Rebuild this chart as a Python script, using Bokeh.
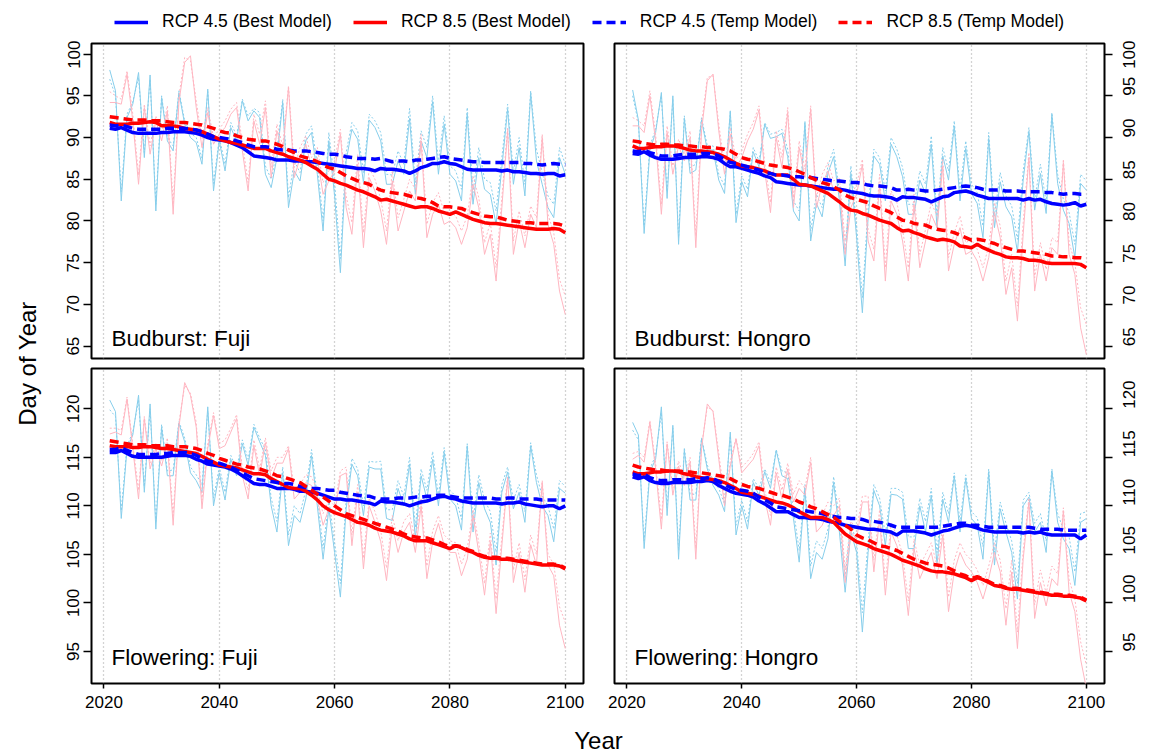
import math
from bokeh.plotting import figure
from bokeh.layouts import column, row
from bokeh.models import (Range1d, FixedTicker, Grid, Legend, LegendItem, Label,
                          LinearAxis)
from bokeh.embed import file_html
from bokeh.resources import INLINE

FONT = "Liberation Sans"
years = list(range(2021, 2101))

# ---------------- Budburst: Fuji ----------------
bbF_45_best_smooth = [
 91.1, 91.0, 91.2, 90.9, 90.6, 90.5, 90.5, 90.5, 90.5, 90.6,
 90.6, 90.7, 90.7, 90.7, 90.6, 90.5, 90.3, 90.0, 89.8, 89.7,
 89.6, 89.4, 89.1, 88.8, 88.3, 87.8, 87.7, 87.6, 87.5, 87.3,
 87.3, 87.3, 87.2, 87.2, 87.1, 87.1, 87.0, 86.9, 86.8, 86.7,
 86.6, 86.5, 86.4, 86.3, 86.3, 86.2, 86.0, 86.3, 86.2, 86.2,
 86.1, 86.0, 85.7, 86.0, 86.4, 86.6, 86.9, 86.9, 87.1, 86.9,
 86.8, 86.5, 86.2, 86.1, 86.1, 86.1, 86.1, 86.1, 86.0, 86.1,
 85.9, 85.9, 85.8, 85.7, 85.7, 85.6, 85.7, 85.7, 85.4, 85.55]
bbF_45_temp_smooth = [
 91.5, 91.4, 91.5, 91.3, 91.1, 91.0, 91.0, 91.0, 91.0, 91.0,
 91.1, 91.1, 91.1, 91.1, 91.0, 90.9, 90.7, 90.4, 90.1, 90.0,
 89.9, 89.8, 89.6, 89.4, 89.1, 88.9, 88.9, 88.9, 88.8, 88.6,
 88.5, 88.5, 88.4, 88.4, 88.4, 88.3, 88.2, 88.1, 88.0, 88.0,
 87.9, 87.7, 87.6, 87.5, 87.5, 87.5, 87.4, 87.5, 87.3, 87.1,
 87.2, 87.2, 87.1, 87.3, 87.3, 87.4, 87.5, 87.6, 87.7, 87.5,
 87.4, 87.3, 87.2, 87.1, 87.1, 87.0, 87.0, 87.0, 87.0, 87.0,
 87.0, 87.0, 86.9, 86.9, 86.8, 86.7, 86.8, 86.9, 86.8, 86.7]
bbF_85_best_smooth = [
 91.8, 91.6, 91.6, 91.6, 91.7, 91.7, 91.8, 91.9, 91.8, 91.4,
 91.4, 91.4, 91.3, 91.1, 91.0, 90.9, 90.7, 90.4, 90.1, 89.8,
 89.6, 89.4, 89.3, 89.1, 88.9, 88.7, 88.7, 88.7, 88.4, 88.2,
 88.0, 87.7, 87.5, 87.3, 87.0, 86.6, 86.2, 85.6, 85.0, 84.8,
 84.5, 84.3, 84.0, 83.7, 83.5, 83.2, 82.9, 82.5, 82.6, 82.4,
 82.2, 82.0, 81.8, 81.6, 81.7, 81.7, 81.5, 81.2, 81.0, 80.8,
 81.1, 80.8, 80.5, 80.2, 80.0, 79.8, 79.7, 79.7, 79.6, 79.5,
 79.4, 79.3, 79.2, 79.1, 79.0, 79.0, 79.0, 79.1, 79.0, 78.6]
bbF_85_temp_smooth = [
 92.5, 92.4, 92.3, 92.2, 92.1, 92.1, 92.1, 92.0, 92.0, 92.0,
 91.9, 91.8, 91.8, 91.8, 91.7, 91.6, 91.5, 91.3, 91.1, 90.8,
 90.6, 90.5, 90.2, 90.0, 89.8, 89.7, 89.6, 89.6, 89.4, 89.2,
 88.9, 88.5, 88.2, 87.8, 87.6, 87.4, 87.1, 86.7, 86.4, 86.2,
 85.8, 85.4, 85.1, 84.8, 84.6, 84.4, 84.0, 83.7, 83.5, 83.4,
 83.3, 83.2, 83.0, 82.8, 82.7, 82.5, 82.2, 81.8, 81.7, 81.7,
 81.6, 81.5, 81.2, 81.0, 80.8, 80.6, 80.5, 80.5, 80.3, 80.1,
 80.0, 79.9, 79.8, 79.8, 79.7, 79.7, 79.7, 79.7, 79.6, 79.4]
bbF_45_best_annual = [
 98.1, 95.6, 82.4, 92.4, 94.0, 97.8, 87.6, 97.5, 81.2, 94.8,
 89.6, 88.4, 95.4, 91.6, 90.0, 89.4, 86.8, 95.8, 83.6, 89.6,
 86.0, 91.2, 89.6, 94.4, 92.0, 93.2, 92.4, 85.6, 84.0, 87.6,
 94.2, 81.6, 86.0, 84.8, 89.6, 90.6, 85.6, 78.8, 89.6, 83.0,
 73.8, 87.2, 91.0, 89.8, 84.6, 92.1, 91.2, 89.6, 84.4, 84.4,
 87.2, 85.6, 92.3, 83.2, 89.6, 87.6, 94.3, 85.6, 91.6, 85.6,
 84.8, 82.4, 92.8, 82.0, 87.6, 83.8, 83.2, 79.6, 86.4, 93.4,
 84.4, 88.8, 83.0, 95.3, 87.2, 84.4, 81.6, 80.4, 87.6, 85.6]
bbF_45_temp_annual = [
 97.0, 95.0, 83.5, 92.8, 94.3, 97.2, 88.2, 97.0, 82.0, 95.0,
 90.0, 89.0, 95.6, 92.0, 90.5, 90.0, 87.5, 95.5, 84.5, 90.0,
 86.8, 91.8, 90.2, 94.6, 92.6, 93.5, 93.0, 86.6, 85.0, 88.4,
 94.6, 82.8, 87.2, 85.8, 90.4, 91.4, 86.8, 80.0, 90.6, 84.6,
 75.5, 88.2, 91.8, 90.8, 85.8, 92.8, 92.0, 90.6, 85.6, 85.5,
 88.4, 86.8, 93.5, 84.6, 90.8, 88.8, 95.0, 87.0, 92.6, 86.6,
 86.0, 83.8, 93.6, 83.4, 88.8, 85.0, 84.6, 81.2, 87.6, 94.0,
 85.8, 90.0, 84.4, 95.6, 88.6, 85.8, 83.0, 82.0, 88.8, 86.8]
bbF_85_best_annual = [
 94.2, 94.2, 94.0, 97.6, 92.0, 84.4, 93.6, 88.0, 92.0, 89.6,
 93.2, 80.8, 94.2, 99.0, 99.8, 93.6, 88.8, 93.0, 89.2, 90.4,
 91.2, 92.8, 93.6, 88.4, 83.6, 92.0, 89.2, 93.6, 85.2, 90.8,
 88.0, 96.0, 85.2, 87.6, 89.2, 86.4, 87.6, 83.2, 84.8, 86.0,
 90.4, 81.6, 78.4, 86.8, 76.8, 85.2, 83.6, 81.2, 77.2, 84.8,
 78.8, 81.2, 83.6, 82.4, 89.6, 78.0, 80.8, 82.0, 79.6, 80.0,
 79.2, 77.2, 79.2, 84.4, 81.6, 76.0, 78.4, 72.8, 81.6, 90.8,
 76.0, 80.0, 76.8, 80.8, 79.2, 90.0, 79.6, 77.2, 71.6, 68.8]
bbF_85_temp_annual = [
 95.5, 95.0, 94.6, 98.0, 92.8, 85.5, 94.0, 89.0, 92.6, 90.4,
 93.8, 82.0, 95.0, 99.6, 99.2, 94.4, 89.8, 93.6, 90.0, 91.0,
 92.0, 93.4, 94.2, 89.4, 84.6, 92.8, 90.4, 94.4, 86.4, 91.6,
 89.0, 96.2, 86.4, 88.8, 90.2, 87.6, 88.8, 84.6, 86.0, 87.2,
 91.0, 83.0, 79.8, 88.0, 78.6, 86.4, 85.0, 82.6, 78.8, 86.0,
 80.4, 82.6, 85.0, 83.8, 90.4, 79.6, 82.2, 83.4, 81.0, 81.2,
 80.6, 78.8, 80.6, 85.4, 82.8, 77.4, 79.8, 74.4, 82.8, 91.2,
 77.6, 81.2, 78.2, 81.8, 80.4, 90.4, 80.8, 78.6, 73.0, 71.0]

# ---------------- Budburst: Hongro ----------------
bbH_45_best_smooth = [
 88.1, 88.0, 88.3, 87.9, 87.6, 87.4, 87.4, 87.4, 87.5, 87.6,
 87.6, 87.6, 87.7, 87.7, 87.6, 87.4, 86.9, 86.5, 86.5, 86.3,
 86.1, 85.9, 85.7, 85.4, 85.2, 84.7, 84.6, 84.5, 84.4, 84.3,
 84.3, 84.2, 84.1, 84.0, 83.9, 83.8, 83.8, 83.7, 83.5, 83.4,
 83.3, 83.1, 83.0, 83.0, 82.9, 82.8, 82.5, 82.9, 82.8, 82.8,
 82.7, 82.6, 82.3, 82.6, 82.9, 83.0, 83.4, 83.5, 83.6, 83.4,
 83.1, 82.9, 82.7, 82.7, 82.7, 82.7, 82.7, 82.7, 82.5, 82.7,
 82.5, 82.6, 82.3, 82.1, 82.0, 81.9, 82.0, 82.2, 81.8, 82.0]
bbH_45_temp_smooth = [
 88.4, 88.3, 88.5, 88.2, 88.0, 87.8, 87.8, 87.8, 87.9, 88.0,
 88.0, 88.0, 88.1, 88.1, 88.0, 87.8, 87.4, 87.0, 86.9, 86.7,
 86.5, 86.3, 86.1, 85.8, 85.7, 85.5, 85.5, 85.4, 85.3, 85.3,
 85.2, 85.2, 85.1, 85.0, 84.9, 84.8, 84.8, 84.7, 84.6, 84.6,
 84.5, 84.3, 84.2, 84.2, 84.1, 84.0, 83.7, 83.7, 83.8, 83.7,
 83.7, 83.6, 83.6, 83.7, 83.8, 83.9, 84.0, 84.1, 84.2, 84.1,
 84.0, 83.8, 83.7, 83.7, 83.7, 83.6, 83.6, 83.6, 83.5, 83.5,
 83.5, 83.5, 83.4, 83.4, 83.3, 83.2, 83.3, 83.3, 83.2, 83.2]
bbH_85_best_smooth = [
 89.0, 88.7, 88.7, 88.8, 88.9, 88.9, 89.0, 89.0, 88.9, 88.7,
 88.5, 88.4, 88.4, 88.3, 88.2, 88.0, 87.7, 87.3, 86.9, 86.6,
 86.5, 86.4, 86.2, 86.0, 85.7, 85.5, 85.5, 85.5, 85.0, 84.4,
 84.3, 84.2, 83.9, 83.6, 83.3, 82.8, 82.3, 81.7, 81.3, 81.2,
 80.9, 80.7, 80.4, 80.1, 79.9, 79.7, 79.2, 78.8, 78.9, 78.6,
 78.4, 78.1, 77.9, 77.7, 77.8, 77.7, 77.5, 77.0, 76.9, 76.8,
 77.2, 76.8, 76.5, 76.2, 76.0, 75.7, 75.6, 75.6, 75.5, 75.3,
 75.3, 75.2, 75.0, 74.9, 74.9, 74.9, 74.9, 74.9, 74.8, 74.4]
bbH_85_temp_smooth = [
 89.6, 89.5, 89.3, 89.2, 89.1, 89.2, 89.2, 89.1, 89.1, 89.0,
 89.0, 88.9, 88.9, 88.8, 88.8, 88.7, 88.6, 88.4, 88.0, 87.6,
 87.4, 87.3, 87.1, 86.9, 86.7, 86.6, 86.5, 86.4, 86.2, 85.9,
 85.6, 85.2, 84.9, 84.6, 84.4, 84.1, 83.7, 83.1, 82.8, 82.6,
 82.4, 82.2, 81.8, 81.5, 81.3, 81.0, 80.5, 80.1, 80.0, 79.7,
 79.6, 79.5, 79.2, 79.0, 78.9, 78.8, 78.6, 78.3, 78.0, 77.7,
 77.8, 77.7, 77.5, 77.3, 77.0, 76.8, 76.6, 76.4, 76.4, 76.3,
 76.2, 76.1, 76.0, 75.8, 75.8, 75.7, 75.7, 75.6, 75.6, 75.5]
bbH_45_best_annual = [
 95.7, 92.1, 78.5, 88.5, 90.6, 95.4, 82.7, 95.0, 77.2, 92.3,
 85.7, 86.1, 92.1, 88.5, 88.5, 84.9, 83.3, 93.2, 79.8, 84.7,
 82.9, 88.3, 86.5, 91.6, 89.9, 90.1, 90.5, 87.7, 81.2, 80.0,
 91.7, 77.6, 82.1, 80.5, 85.7, 87.7, 82.5, 74.6, 85.7, 78.0,
 69.0, 80.4, 87.8, 86.8, 82.4, 89.2, 87.7, 85.3, 80.8, 80.8,
 84.9, 83.3, 89.2, 79.2, 87.8, 84.9, 91.4, 82.4, 88.7, 83.3,
 82.1, 78.0, 89.9, 79.2, 84.7, 81.7, 80.5, 76.3, 84.9, 90.7,
 81.3, 85.7, 80.9, 92.7, 84.5, 81.3, 79.7, 75.6, 84.5, 83.7]
bbH_45_temp_annual = [
 95.0, 91.8, 79.4, 89.0, 91.0, 95.0, 83.5, 94.6, 78.0, 92.6,
 86.4, 86.8, 92.4, 89.0, 89.0, 85.6, 84.2, 93.0, 80.8, 85.4,
 83.8, 88.8, 87.2, 91.8, 90.4, 90.6, 91.0, 88.6, 82.4, 81.2,
 92.0, 78.8, 83.2, 81.6, 86.6, 88.6, 83.6, 76.0, 86.6, 79.4,
 70.8, 81.6, 88.6, 87.6, 83.6, 90.0, 88.6, 86.4, 82.0, 82.0,
 86.0, 84.4, 90.2, 80.6, 88.8, 86.0, 92.0, 83.6, 89.6, 84.4,
 83.4, 79.4, 90.6, 80.6, 85.8, 83.0, 81.8, 77.8, 86.0, 91.2,
 82.6, 86.8, 82.2, 93.0, 85.6, 82.6, 81.0, 77.2, 85.6, 84.8]
bbH_85_best_annual = [
 91.4, 91.4, 90.6, 95.0, 89.6, 80.8, 90.6, 85.6, 89.0, 87.2,
 90.0, 76.8, 90.8, 96.8, 97.6, 90.8, 85.6, 90.4, 86.4, 87.6,
 89.6, 91.0, 93.3, 86.0, 81.0, 90.0, 86.4, 93.0, 81.6, 88.8,
 85.2, 93.4, 81.6, 84.4, 86.0, 83.6, 84.0, 76.0, 81.6, 83.2,
 86.8, 77.6, 75.2, 84.4, 72.8, 82.4, 80.8, 77.6, 72.8, 82.0,
 74.4, 77.6, 80.8, 79.2, 86.6, 74.0, 77.2, 79.2, 76.0, 76.4,
 75.2, 72.8, 75.6, 81.0, 78.0, 71.2, 74.4, 68.0, 78.4, 87.6,
 71.6, 76.0, 72.8, 76.8, 76.0, 87.0, 76.0, 73.6, 67.2, 64.0]
bbH_85_temp_annual = [
 92.4, 92.0, 91.4, 95.6, 90.4, 82.0, 91.4, 86.6, 89.8, 88.0,
 90.8, 78.2, 91.6, 97.2, 97.4, 91.6, 86.6, 91.2, 87.4, 88.4,
 90.4, 91.8, 93.8, 87.0, 82.2, 90.8, 87.6, 93.6, 82.8, 89.6,
 86.2, 93.8, 82.8, 85.6, 87.0, 84.8, 85.2, 77.6, 83.0, 84.4,
 87.4, 79.0, 76.6, 85.6, 74.4, 83.6, 82.2, 79.0, 74.4, 83.2,
 76.0, 79.0, 82.2, 80.6, 87.4, 75.6, 78.6, 80.6, 77.4, 77.8,
 76.6, 74.4, 77.0, 82.2, 79.4, 72.8, 76.0, 69.8, 79.8, 88.2,
 73.2, 77.4, 74.2, 78.0, 77.4, 87.4, 77.4, 75.0, 69.6, 67.6]

# ---------------- Flowering: Fuji ----------------
flF_45_best_smooth = [
 115.5, 115.5, 115.7, 115.4, 115.1, 115.0, 115.0, 115.0, 115.0, 115.0,
 115.1, 115.2, 115.2, 115.2, 115.1, 114.8, 114.6, 114.3, 114.2, 114.1,
 114.0, 113.8, 113.5, 113.1, 112.7, 112.3, 112.2, 112.2, 112.0, 111.8,
 111.8, 111.8, 111.7, 111.5, 111.5, 111.4, 111.3, 111.1, 110.9, 110.7,
 110.7, 110.6, 110.6, 110.5, 110.4, 110.3, 110.1, 110.5, 110.4, 110.4,
 110.3, 110.2, 110.0, 110.2, 110.4, 110.5, 110.7, 110.9, 111.0, 110.8,
 110.7, 110.5, 110.4, 110.3, 110.3, 110.3, 110.3, 110.3, 110.2, 110.3,
 110.3, 110.4, 110.2, 110.1, 110.0, 109.9, 110.0, 110.0, 109.7, 110.0]
flF_45_temp_smooth = [
 115.8, 115.8, 116.0, 115.7, 115.5, 115.3, 115.3, 115.3, 115.3, 115.4,
 115.4, 115.5, 115.5, 115.5, 115.4, 115.2, 114.9, 114.6, 114.5, 114.4,
 114.2, 114.0, 113.7, 113.4, 113.1, 112.8, 112.7, 112.6, 112.5, 112.4,
 112.3, 112.3, 112.2, 112.0, 111.9, 111.8, 111.8, 111.7, 111.6, 111.6,
 111.4, 111.3, 111.2, 111.1, 111.0, 111.0, 110.8, 110.7, 110.7, 110.7,
 110.8, 110.8, 110.8, 110.9, 110.9, 111.0, 111.0, 111.1, 111.1, 111.0,
 110.9, 110.8, 110.8, 110.8, 110.8, 110.8, 110.8, 110.7, 110.7, 110.8,
 110.8, 110.7, 110.7, 110.7, 110.7, 110.6, 110.6, 110.6, 110.6, 110.6]
flF_85_best_smooth = [
 116.2, 116.1, 116.1, 116.1, 116.0, 116.0, 116.1, 116.1, 116.0, 115.9,
 115.9, 115.8, 115.7, 115.6, 115.5, 115.4, 115.1, 114.8, 114.5, 114.2,
 114.1, 114.0, 113.9, 113.7, 113.5, 113.3, 113.3, 113.2, 112.8, 112.5,
 112.2, 111.9, 111.8, 111.8, 111.5, 111.1, 110.6, 110.0, 109.6, 109.3,
 109.1, 108.9, 108.6, 108.3, 108.2, 108.0, 107.7, 107.5, 107.4, 107.3,
 107.1, 106.9, 106.6, 106.4, 106.4, 106.4, 106.2, 106.0, 105.8, 105.6,
 105.9, 105.7, 105.4, 105.2, 104.9, 104.7, 104.6, 104.6, 104.5, 104.5,
 104.4, 104.3, 104.2, 104.1, 104.0, 103.9, 103.9, 103.9, 103.8, 103.5]
flF_85_temp_smooth = [
 116.7, 116.6, 116.5, 116.4, 116.3, 116.3, 116.3, 116.2, 116.2, 116.2,
 116.2, 116.1, 116.1, 116.1, 116.0, 115.9, 115.7, 115.4, 115.2, 114.9,
 114.7, 114.5, 114.3, 114.2, 114.0, 113.9, 113.8, 113.6, 113.4, 113.1,
 113.0, 112.8, 112.6, 112.4, 112.0, 111.6, 111.2, 110.9, 110.5, 110.0,
 109.6, 109.2, 109.0, 108.8, 108.6, 108.4, 108.2, 108.0, 107.8, 107.6,
 107.4, 107.1, 106.9, 106.8, 106.7, 106.7, 106.5, 106.3, 106.0, 105.8,
 105.9, 105.8, 105.5, 105.3, 105.0, 104.8, 104.7, 104.7, 104.6, 104.6,
 104.5, 104.4, 104.3, 104.2, 104.1, 104.0, 104.0, 104.0, 103.9, 103.6]
flF_45_best_annual = [
 120.9, 119.7, 108.7, 115.9, 117.3, 121.4, 111.4, 120.5, 107.6, 118.1,
 113.1, 113.1, 118.5, 116.6, 113.4, 112.6, 111.4, 120.2, 110.0, 113.4,
 110.6, 114.8, 113.1, 116.4, 114.2, 118.1, 116.6, 115.2, 110.0, 107.3,
 113.4, 105.9, 109.0, 108.3, 110.7, 115.2, 110.0, 104.5, 109.7, 105.2,
 100.6, 109.7, 114.3, 113.1, 109.0, 114.0, 113.8, 113.8, 108.7, 108.5,
 111.8, 110.0, 114.3, 106.6, 113.1, 110.7, 114.8, 110.0, 115.5, 110.7,
 110.0, 107.5, 116.2, 107.3, 112.4, 109.7, 108.3, 103.9, 111.4, 113.5,
 109.7, 111.4, 108.3, 116.2, 112.4, 110.0, 109.0, 106.3, 111.8, 111.3]
flF_45_temp_annual = [
 119.9, 119.2, 109.5, 116.2, 117.6, 120.9, 112.0, 120.0, 108.4, 118.4,
 113.6, 113.7, 118.7, 117.0, 114.0, 113.2, 112.2, 119.8, 110.8, 114.0,
 111.4, 115.2, 113.8, 116.8, 114.8, 118.4, 117.0, 115.8, 110.8, 108.4,
 114.0, 107.0, 110.0, 109.2, 111.6, 115.8, 111.0, 105.6, 110.6, 106.2,
 102.0, 110.6, 114.9, 113.8, 110.0, 114.6, 114.5, 114.6, 109.6, 109.6,
 112.6, 111.0, 115.0, 107.8, 113.8, 111.6, 115.6, 111.0, 116.0, 111.6,
 111.0, 108.6, 116.4, 108.5, 113.2, 110.6, 109.4, 105.2, 112.2, 114.0,
 110.6, 112.2, 109.4, 116.5, 113.2, 111.0, 110.0, 107.6, 112.6, 112.0]
flF_85_best_annual = [
 117.4, 117.6, 117.3, 121.0, 115.9, 110.7, 119.0, 113.8, 115.9, 114.1,
 116.5, 108.0, 118.1, 122.7, 121.4, 118.1, 109.7, 115.9, 119.3, 115.9,
 116.2, 117.6, 119.0, 113.1, 110.7, 116.2, 113.1, 116.5, 112.8, 114.4,
 114.4, 115.9, 110.7, 111.4, 112.4, 112.1, 110.7, 108.0, 109.7, 109.0,
 113.1, 113.4, 105.9, 111.4, 103.5, 110.0, 108.3, 106.3, 102.3, 108.0,
 105.2, 107.3, 108.3, 105.2, 110.0, 102.5, 106.3, 108.2, 105.9, 105.2,
 105.2, 102.8, 104.5, 109.0, 105.2, 100.8, 106.3, 98.9, 105.9, 112.8,
 102.1, 105.2, 101.1, 106.0, 103.9, 112.4, 103.9, 102.8, 97.7, 95.3]
flF_85_temp_annual = [
 118.0, 118.0, 117.8, 121.2, 116.4, 111.6, 119.2, 114.4, 116.4, 114.6,
 117.0, 109.0, 118.6, 122.4, 121.6, 118.6, 110.6, 116.4, 119.6, 116.4,
 116.8, 118.0, 119.4, 113.8, 111.6, 116.8, 113.8, 117.0, 113.6, 115.0,
 115.0, 116.2, 111.6, 112.2, 113.2, 113.0, 111.6, 109.2, 110.6, 110.0,
 113.6, 114.0, 107.0, 112.2, 104.6, 110.8, 109.4, 107.4, 103.6, 109.0,
 106.4, 108.4, 109.2, 106.4, 110.8, 103.8, 107.4, 109.0, 107.0, 106.4,
 106.2, 104.0, 105.6, 109.6, 106.2, 102.0, 107.2, 100.4, 106.8, 113.0,
 103.4, 106.2, 102.4, 107.0, 105.0, 112.6, 105.0, 104.0, 99.6, 98.0]

# ---------------- Flowering: Hongro ----------------
flH_45_best_smooth = [
 113.0, 112.8, 113.0, 112.6, 112.4, 112.3, 112.3, 112.4, 112.4, 112.4,
 112.4, 112.5, 112.5, 112.6, 112.5, 112.1, 111.8, 111.5, 111.3, 111.2,
 111.1, 110.9, 110.5, 110.2, 109.8, 109.4, 109.4, 109.4, 109.1, 108.8,
 108.8, 108.7, 108.7, 108.6, 108.4, 108.3, 108.2, 108.0, 107.9, 107.8,
 107.7, 107.6, 107.6, 107.5, 107.4, 107.3, 107.0, 107.4, 107.4, 107.4,
 107.3, 107.2, 107.0, 107.2, 107.4, 107.5, 107.7, 107.9, 108.0, 107.9,
 107.7, 107.5, 107.4, 107.3, 107.3, 107.3, 107.3, 107.3, 107.2, 107.3,
 107.2, 107.3, 107.1, 107.0, 107.0, 107.0, 107.0, 107.0, 106.6, 107.0]
flH_45_temp_smooth = [
 113.3, 113.1, 113.3, 112.9, 112.7, 112.6, 112.6, 112.7, 112.7, 112.7,
 112.7, 112.8, 112.8, 112.9, 112.8, 112.5, 112.2, 111.9, 111.7, 111.6,
 111.5, 111.3, 110.9, 110.6, 110.3, 109.9, 109.8, 109.7, 109.6, 109.5,
 109.5, 109.4, 109.3, 109.2, 109.0, 108.9, 108.8, 108.8, 108.7, 108.7,
 108.6, 108.4, 108.4, 108.3, 108.2, 108.0, 107.8, 107.8, 107.8, 107.8,
 107.8, 107.8, 107.8, 107.8, 107.9, 108.0, 108.1, 108.2, 108.2, 108.0,
 108.0, 107.9, 107.8, 107.8, 107.8, 107.8, 107.8, 107.8, 107.8, 107.8,
 107.7, 107.6, 107.6, 107.6, 107.6, 107.5, 107.5, 107.5, 107.5, 107.5]
flH_85_best_smooth = [
 113.5, 113.3, 113.3, 113.4, 113.5, 113.5, 113.6, 113.6, 113.5, 113.3,
 113.2, 113.0, 112.9, 112.8, 112.7, 112.6, 112.4, 112.1, 111.8, 111.4,
 111.3, 111.2, 111.0, 110.8, 110.6, 110.4, 110.3, 110.1, 109.8, 109.4,
 109.1, 108.8, 108.8, 108.8, 108.6, 108.3, 107.7, 107.1, 106.7, 106.3,
 106.1, 105.9, 105.6, 105.4, 105.2, 105.0, 104.7, 104.4, 104.2, 104.0,
 103.8, 103.5, 103.3, 103.2, 103.2, 103.1, 103.0, 102.8, 102.6, 102.3,
 102.6, 102.4, 102.1, 101.8, 101.7, 101.5, 101.4, 101.4, 101.3, 101.2,
 101.1, 101.0, 100.9, 100.8, 100.8, 100.7, 100.7, 100.6, 100.5, 100.2]
flH_85_temp_smooth = [
 114.2, 114.0, 113.9, 113.8, 113.7, 113.7, 113.6, 113.6, 113.6, 113.5,
 113.5, 113.4, 113.4, 113.3, 113.2, 113.1, 113.0, 112.8, 112.5, 112.2,
 112.0, 111.9, 111.8, 111.6, 111.4, 111.2, 111.1, 110.9, 110.7, 110.4,
 110.2, 109.9, 109.7, 109.4, 109.1, 108.8, 108.4, 108.0, 107.6, 107.0,
 106.7, 106.5, 106.2, 105.9, 105.8, 105.6, 105.4, 105.1, 104.8, 104.5,
 104.3, 104.1, 104.0, 103.9, 103.8, 103.6, 103.3, 103.0, 102.8, 102.5,
 102.7, 102.5, 102.2, 101.9, 101.8, 101.6, 101.5, 101.5, 101.4, 101.3,
 101.2, 101.1, 101.0, 100.9, 100.9, 100.8, 100.8, 100.7, 100.6, 100.3]
flH_45_best_annual = [
 118.6, 117.3, 105.6, 113.5, 114.8, 120.2, 109.0, 118.3, 104.5, 115.7,
 110.6, 110.6, 116.9, 113.8, 112.1, 111.1, 109.4, 117.6, 107.0, 110.0,
 107.6, 112.4, 111.1, 113.5, 111.8, 115.7, 113.1, 112.8, 108.7, 104.2,
 111.8, 102.5, 105.2, 104.5, 106.6, 112.4, 107.3, 101.1, 107.3, 105.2,
 97.0, 105.2, 111.6, 110.0, 105.9, 111.2, 111.1, 110.7, 105.6, 105.6,
 110.0, 107.3, 111.1, 103.9, 110.7, 108.3, 113.1, 107.3, 112.8, 108.7,
 108.0, 104.5, 113.5, 103.9, 109.7, 107.3, 105.2, 100.4, 110.0, 110.9,
 107.3, 108.3, 105.2, 113.6, 108.3, 106.6, 105.6, 101.8, 108.3, 108.7]
flH_45_temp_annual = [
 117.8, 116.8, 106.4, 113.8, 115.2, 119.6, 109.8, 118.0, 105.4, 116.0,
 111.2, 111.2, 117.0, 114.2, 112.6, 111.8, 110.2, 117.2, 108.0, 110.6,
 108.4, 112.8, 111.8, 113.8, 112.4, 115.8, 113.6, 113.4, 109.6, 105.4,
 112.2, 103.8, 106.4, 105.6, 107.6, 113.0, 108.4, 102.6, 108.2, 106.2,
 99.0, 106.4, 112.2, 110.8, 107.0, 111.8, 111.8, 111.4, 106.8, 106.8,
 110.8, 108.4, 111.8, 105.2, 111.4, 109.2, 113.4, 108.4, 113.2, 109.4,
 108.8, 105.8, 113.8, 105.2, 110.4, 108.2, 106.4, 102.0, 110.6, 111.4,
 108.2, 109.2, 106.4, 113.8, 109.2, 107.6, 106.8, 103.2, 109.2, 109.4]
flH_85_best_annual = [
 114.8, 115.2, 114.5, 118.6, 113.8, 107.6, 116.4, 111.1, 114.1, 112.1,
 114.5, 104.5, 115.9, 120.5, 119.7, 114.8, 110.0, 114.1, 116.9, 113.4,
 114.1, 114.8, 116.2, 110.7, 108.0, 113.4, 110.7, 113.8, 110.4, 111.8,
 111.1, 114.5, 107.3, 108.0, 109.4, 109.0, 110.0, 102.1, 107.3, 106.6,
 110.4, 110.4, 103.2, 108.7, 100.8, 107.3, 105.9, 103.9, 98.7, 105.6,
 102.5, 103.9, 105.2, 102.5, 107.0, 99.1, 103.2, 105.2, 103.9, 103.2,
 102.1, 100.4, 102.5, 105.2, 103.2, 97.7, 103.2, 95.3, 104.5, 110.4,
 98.4, 102.1, 99.7, 102.5, 101.8, 109.5, 101.1, 99.1, 94.2, 91.2]
flH_85_temp_annual = [
 115.4, 115.6, 115.0, 118.8, 114.4, 108.6, 116.6, 111.8, 114.6, 112.8,
 115.0, 105.6, 116.2, 120.2, 119.8, 115.4, 110.8, 114.6, 117.0, 114.0,
 114.6, 115.4, 116.6, 111.6, 109.0, 114.0, 111.6, 114.4, 111.2, 112.6,
 111.8, 115.0, 108.4, 109.0, 110.4, 110.0, 110.8, 103.4, 108.4, 107.6,
 111.0, 111.0, 104.4, 109.6, 102.2, 108.2, 107.0, 105.0, 100.2, 106.6,
 103.8, 105.0, 106.2, 103.8, 107.8, 100.6, 104.4, 106.2, 105.0, 104.4,
 103.4, 101.8, 103.8, 106.2, 104.4, 99.4, 104.4, 97.0, 105.4, 110.8,
 99.8, 103.4, 101.0, 103.8, 103.0, 109.8, 102.4, 100.4, 96.0, 93.6]

panel_titles = ["Budburst: Fuji", "Budburst: Hongro", "Flowering: Fuji", "Flowering: Hongro"]
legend_labels = ["RCP 4.5 (Best Model)", "RCP 8.5 (Best Model)",
                 "RCP 4.5 (Temp Model)", "RCP 8.5 (Temp Model)"]
x_ticks = [2020, 2040, 2060, 2080, 2100]
y_ticks_bb = [65, 70, 75, 80, 85, 90, 95, 100]
y_ticks_fl = [95, 100, 105, 110, 115, 120]

X_RANGE = (2017.84, 2103.16)
Y_RANGE_BB = (63.52, 101.27)
Y_RANGE_FL = (91.7, 124.15)

BLUE = "#0000FF"
RED = "#FF0000"
LBLUE = "#87CEEB"
LRED = "#FFB6C1"
FRAME_H = 315


def make_panel(data, title, yr, yticks, y_side, show_x, fw, bl, br, bt, bb, label_dy):
    p = figure(frame_width=fw, frame_height=FRAME_H,
               x_range=Range1d(*X_RANGE), y_range=Range1d(*yr),
               output_backend="svg", toolbar_location=None,
               x_axis_location=None, y_axis_location=None,
               min_border_left=bl, min_border_right=br,
               min_border_top=bt, min_border_bottom=bb)
    p.grid.visible = False
    p.outline_line_color = "black"
    p.outline_line_width = 2
    p.background_fill_color = "white"
    p.border_fill_color = "white"
    grid = Grid(dimension=0, ticker=FixedTicker(ticks=x_ticks),
                grid_line_color="#a8a8a8", grid_line_dash="1 3", grid_line_width=1.3)
    p.add_layout(grid)
    yax = LinearAxis(ticker=FixedTicker(ticks=yticks))
    yax.axis_line_color = None
    yax.major_tick_line_color = "black"
    yax.major_tick_line_width = 1.5
    yax.major_tick_out = 8
    yax.major_tick_in = 0
    yax.minor_tick_line_color = None
    if y_side == "left":
        yax.major_label_orientation = "parallel"
        yax.major_label_standoff = 4
    else:
        yax.major_label_orientation = math.pi / 2
        yax.major_label_standoff = 17
    yax.major_label_text_font = FONT
    yax.major_label_text_font_size = "17px"
    yax.major_label_text_color = "black"
    p.add_layout(yax, y_side)
    if show_x:
        xax = LinearAxis(ticker=FixedTicker(ticks=x_ticks))
        xax.axis_line_color = None
        xax.major_tick_line_color = "black"
        xax.major_tick_line_width = 1.5
        xax.major_tick_out = 5
        xax.major_tick_in = 0
        xax.minor_tick_line_color = None
        xax.major_label_standoff = 7
        xax.major_label_text_font = FONT
        xax.major_label_text_font_size = "17px"
        xax.major_label_text_color = "black"
        p.add_layout(xax, "below")
    a45b, a45t, a85b, a85t, s45b, s45t, s85b, s85t = data
    p.line(years, a45b, line_color=LBLUE, line_width=1)
    p.line(years, a45t, line_color=LBLUE, line_width=1, line_dash="2 2")
    p.line(years, a85b, line_color=LRED, line_width=1)
    p.line(years, a85t, line_color=LRED, line_width=1, line_dash="2 2")
    p.line(years, s45b, line_color=BLUE, line_width=3.5)
    p.line(years, s85b, line_color=RED, line_width=3.5)
    p.line(years, s45t, line_color=BLUE, line_width=3.5, line_dash="9 5")
    p.line(years, s85t, line_color=RED, line_width=3.5, line_dash="9 5")
    # panel caption, offset from the frame's bottom-left corner (pixels)
    px_x = (X_RANGE[1] - X_RANGE[0]) / fw
    px_y = (yr[1] - yr[0]) / FRAME_H
    p.add_layout(Label(x=X_RANGE[0] + 20 * px_x, y=yr[0] + label_dy * px_y,
                       text=title, text_font=FONT, text_font_size="22.5px",
                       text_baseline="alphabetic", text_align="left",
                       text_color="black"))
    return p


tl = make_panel([bbF_45_best_annual, bbF_45_temp_annual, bbF_85_best_annual, bbF_85_temp_annual,
                 bbF_45_best_smooth, bbF_45_temp_smooth, bbF_85_best_smooth, bbF_85_temp_smooth],
                panel_titles[0], Y_RANGE_BB, y_ticks_bb, "left", False, 492, 41, 15, 3, 5, 19.6)
tr = make_panel([bbH_45_best_annual, bbH_45_temp_annual, bbH_85_best_annual, bbH_85_temp_annual,
                 bbH_45_best_smooth, bbH_45_temp_smooth, bbH_85_best_smooth, bbH_85_temp_smooth],
                panel_titles[1], Y_RANGE_BB, y_ticks_bb, "right", False, 490, 16, 47, 3, 5, 19.6)
bl = make_panel([flF_45_best_annual, flF_45_temp_annual, flF_85_best_annual, flF_85_temp_annual,
                 flF_45_best_smooth, flF_45_temp_smooth, flF_85_best_smooth, flF_85_temp_smooth],
                panel_titles[2], Y_RANGE_FL, y_ticks_fl, "left", True, 492, 41, 15, 5, 40, 26.3)
br = make_panel([flH_45_best_annual, flH_45_temp_annual, flH_85_best_annual, flH_85_temp_annual,
                 flH_45_best_smooth, flH_45_temp_smooth, flH_85_best_smooth, flH_85_temp_smooth],
                panel_titles[3], Y_RANGE_FL, y_ticks_fl, "right", True, 490, 16, 47, 5, 40, 26.3)


def blank(w, h, xr, yr):
    f = figure(width=w, height=h, x_range=Range1d(*xr), y_range=Range1d(*yr),
               output_backend="svg", toolbar_location=None,
               x_axis_location=None, y_axis_location=None, min_border=0)
    f.outline_line_color = None
    f.grid.visible = False
    f.background_fill_color = "white"
    f.border_fill_color = "white"
    return f


# legend header (legend glyphs come from off-screen proxy lines)
header = blank(1151, 40, (0, 1151), (0, 40))
r1 = header.line(x=[-50, -40], y=[-50, -50], line_color=BLUE, line_width=3.5)
r2 = header.line(x=[-50, -40], y=[-50, -50], line_color=RED, line_width=3.5)
r3 = header.line(x=[-50, -40], y=[-50, -50], line_color=BLUE, line_width=3.5, line_dash="9 5")
r4 = header.line(x=[-50, -40], y=[-50, -50], line_color=RED, line_width=3.5, line_dash="9 5")
legend = Legend(items=[LegendItem(label=legend_labels[0], renderers=[r1]),
                       LegendItem(label=legend_labels[1], renderers=[r2]),
                       LegendItem(label=legend_labels[2], renderers=[r3]),
                       LegendItem(label=legend_labels[3], renderers=[r4])],
                orientation="horizontal", location=(114, 8), padding=0, margin=0,
                spacing=21, label_standoff=14, glyph_width=34, glyph_height=20,
                label_height=20, border_line_alpha=0, background_fill_alpha=0,
                label_text_font=FONT, label_text_font_size="17.5px",
                label_text_color="black")
header.add_layout(legend)

# y title
ytitle = blank(50, 716, (0, 50), (0, 716))
ytitle.add_layout(Label(x=27, y=393, text="Day of Year", angle=math.pi / 2,
                        text_align="center", text_baseline="middle",
                        text_font=FONT, text_font_size="24px", text_color="black"))
# x title
xtitle = blank(1101, 33, (0, 1101), (0, 33))
xtitle.add_layout(Label(x=548, y=16, text="Year", text_align="center",
                        text_baseline="middle", text_font=FONT,
                        text_font_size="24px", text_color="black"))

layout = column(header, row(ytitle, column(row(tl, tr), row(bl, br), xtitle)))

open("out.html", "w").write(file_html(layout, INLINE))
